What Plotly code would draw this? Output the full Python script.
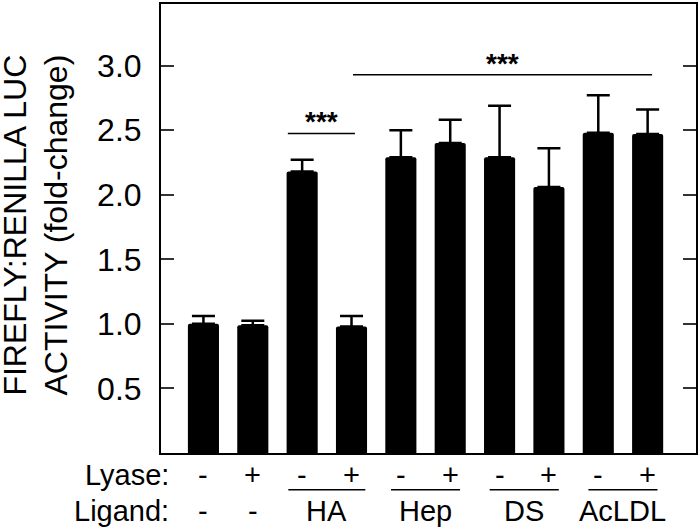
import plotly.graph_objects as go

# Data
positions = list(range(10))
values = [1.00, 0.99, 2.18, 0.98, 2.29, 2.40, 2.29, 2.06, 2.48, 2.47]
errors = [0.06, 0.035, 0.09, 0.08, 0.21, 0.18, 0.40, 0.30, 0.29, 0.19]
lyase_labels = ["-", "+", "-", "+", "-", "+", "-", "+", "-", "+"]
ligand_labels = ["-", "-", "HA", "Hep", "DS", "AcLDL"]
ligand_positions = [0, 1, 2.5, 4.5, 6.5, 8.5]
ligand_groups = [(2, 3), (4, 5), (6, 7), (8, 9)]
y_ticks = [0.5, 1.0, 1.5, 2.0, 2.5, 3.0]
sig_brackets = [  # (x0, x1, y)
    (1.71, 3.07, 2.475),
    (3.03, 9.09, 2.93),
]
sig_text = ["***", "***"]

FONT = "Liberation Sans, Arial, sans-serif"

fig = go.Figure()
fig.add_trace(go.Bar(
    x=positions, y=values,
    marker=dict(color="black", line=dict(width=0), cornerradius=2),
    error_y=dict(type="data", array=errors, arrayminus=[0]*len(errors), symmetric=False,
                 color="black", thickness=2.5, width=11.5),
    width=0.63,
    showlegend=False,
))

annotations = []
shapes = []

# Lyase row
for xi, lab in zip(positions, lyase_labels):
    annotations.append(dict(x=xi, y=-0.049, xref="x", yref="paper", text=lab,
                            showarrow=False, xanchor="center", yanchor="middle",
                            font=dict(size=29, color="black", family=FONT)))
# Ligand row
for xi, lab in zip(ligand_positions, ligand_labels):
    annotations.append(dict(x=xi, y=-0.13, xref="x", yref="paper", text=lab,
                            showarrow=False, xanchor="center", yanchor="middle",
                            font=dict(size=29, color="black", family=FONT)))
# Underlines for ligand groups
for (a, b) in ligand_groups:
    ext = 0.78 if a == 2 else 0.7
    shapes.append(dict(type="line", xref="x", yref="paper",
                       x0=(a + b) / 2 - ext, x1=(a + b) / 2 + ext, y0=-0.082, y1=-0.082,
                       line=dict(color="black", width=1.5)))

# Row labels
for txt, yy in [("Lyase:", -0.049), ("Ligand:", -0.13)]:
    annotations.append(dict(x=0.019, y=yy, xref="paper", yref="paper", text=txt,
                            showarrow=False, xanchor="right", yanchor="middle",
                            font=dict(size=29, color="black", family=FONT)))

# Significance brackets
for (x0, x1, yy), t in zip(sig_brackets, sig_text):
    shapes.append(dict(type="line", xref="x", yref="y", x0=x0, x1=x1, y0=yy, y1=yy,
                       line=dict(color="black", width=1.5)))
    annotations.append(dict(x=(x0 + x1) / 2, y=yy, xref="x", yref="y", text="<b>" + t + "</b>",
                            showarrow=False, xanchor="center", yanchor="bottom", yshift=-6,
                            font=dict(size=28, color="black", family=FONT)))

# Y-axis title
annotations.append(dict(x=-0.238, y=0.508, xref="paper", yref="paper", xshift=2,
                        text="FIREFLY:RENILLA LUC<br>ACTIVITY (fold-change)",
                        textangle=-90, showarrow=False, xanchor="center", yanchor="middle",
                        font=dict(size=32, color="black", family=FONT)))

fig.update_layout(
    width=700, height=532,
    margin=dict(l=161, r=4, t=2, b=79),
    paper_bgcolor="white", plot_bgcolor="white",
    bargap=0.37,
    annotations=annotations, shapes=shapes,
    font=dict(family=FONT, color="black"),
)
fig.update_xaxes(range=[-0.86, 9.98], showticklabels=False, ticks="",
                 showline=True, linecolor="black", linewidth=2, mirror=True,
                 showgrid=False, zeroline=False)
fig.update_yaxes(range=[0, 3.477], tickvals=y_ticks, ticktext=[f"{v:.1f}" for v in y_ticks],
                 ticks="inside", ticklen=13, tickwidth=2, tickcolor="#333",
                 showline=True, linecolor="black", linewidth=2, mirror="ticks",
                 showgrid=False, zeroline=False, ticklabelstandoff=11,
                 tickfont=dict(size=32, color="black", family=FONT))

fig.write_html("out.html", config={"displayModeBar": False},
               post_script="document.body.style.margin='0';document.body.style.overflow='hidden';")
